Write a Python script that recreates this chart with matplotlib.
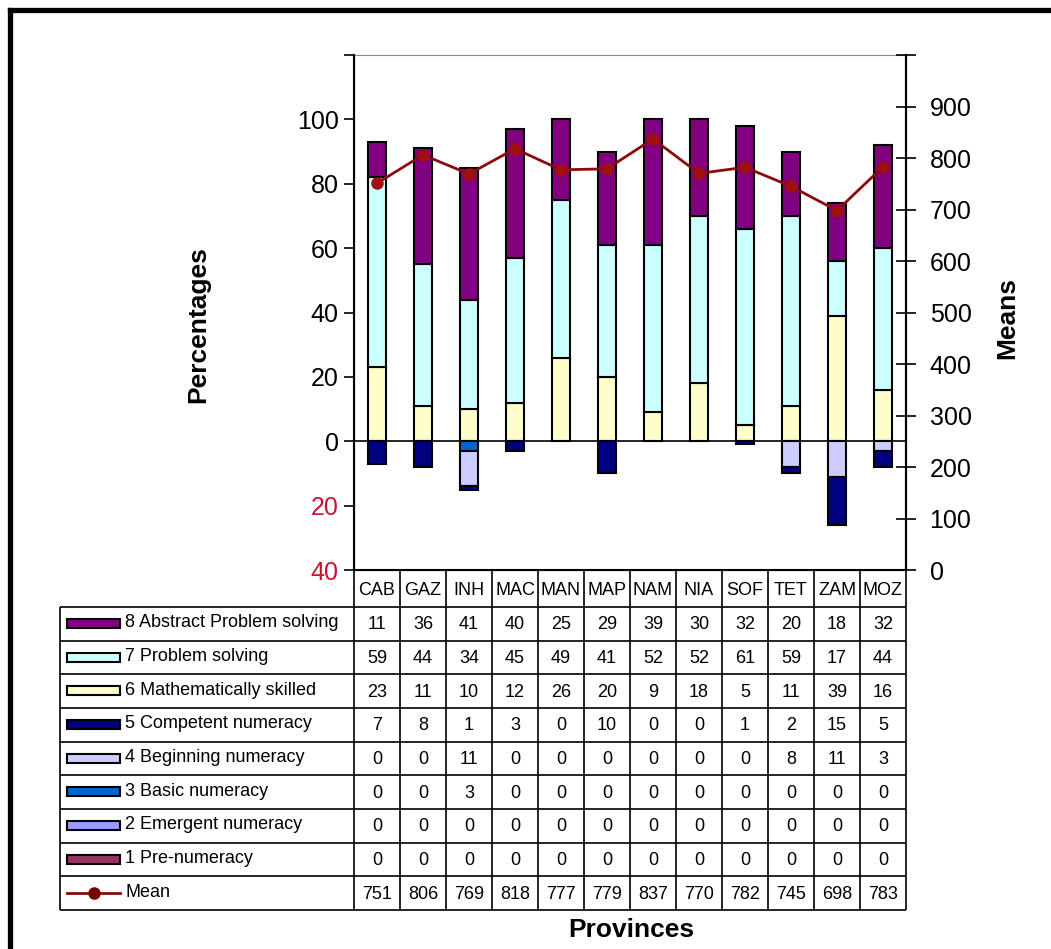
import matplotlib
matplotlib.use('Agg')
import matplotlib.pyplot as plt
import numpy as np
from matplotlib.patches import Rectangle
from matplotlib.lines import Line2D

plt.rcParams['font.family'] = ['Liberation Sans', 'DejaVu Sans']

provinces = ['CAB', 'GAZ', 'INH', 'MAC', 'MAN', 'MAP', 'NAM', 'NIA', 'SOF', 'TET', 'ZAM', 'MOZ']

abstract = [11, 36, 41, 40, 25, 29, 39, 30, 32, 20, 18, 32]
problem = [59, 44, 34, 45, 49, 41, 52, 52, 61, 59, 17, 44]
math_skilled = [23, 11, 10, 12, 26, 20, 9, 18, 5, 11, 39, 16]
competent = [7, 8, 1, 3, 0, 10, 0, 0, 1, 2, 15, 5]
beginning = [0, 0, 11, 0, 0, 0, 0, 0, 0, 8, 11, 3]
basic = [0, 0, 3, 0, 0, 0, 0, 0, 0, 0, 0, 0]
emergent = [0, 0, 0, 0, 0, 0, 0, 0, 0, 0, 0, 0]
pre_num = [0, 0, 0, 0, 0, 0, 0, 0, 0, 0, 0, 0]
means = [751, 806, 769, 818, 777, 779, 837, 770, 782, 745, 698, 783]

labels = ['8 Abstract Problem solving', '7 Problem solving', '6 Mathematically skilled',
          '5 Competent numeracy', '4 Beginning numeracy', '3 Basic numeracy',
          '2 Emergent numeracy', '1 Pre-numeracy']
series = [abstract, problem, math_skilled, competent, beginning, basic, emergent, pre_num]
colors = ['#800080', '#ccffff', '#ffffcc', '#000080', '#ccccff', '#0066cc', '#9999ff', '#993366']
mean_color = '#8b0a0a'
red = '#cc1133'

W, H = 1051, 949
fig = plt.figure(figsize=(W / 100, H / 100), dpi=100)

def frac(x0, y0, x1, y1):
    return [x0 / W, 1 - y1 / H, (x1 - x0) / W, (y1 - y0) / H]

ax = fig.add_axes(frac(354, 55, 906, 570))
x = np.arange(len(provinces))
bw = 0.38

# positive part: 6, 7, 8 upwards
bottom = np.zeros(len(x))
for s, c in [(math_skilled, colors[2]), (problem, colors[1]), (abstract, colors[0])]:
    v = np.array(s, dtype=float)
    ax.bar(x, v, bw, bottom=bottom, color=c, edgecolor='black', linewidth=1.5, zorder=2)
    bottom += v

# negative part: 1..5 downwards from zero
bottom = np.zeros(len(x))
for s, c in [(pre_num, colors[7]), (emergent, colors[6]), (basic, colors[5]),
             (beginning, colors[4]), (competent, colors[3])]:
    v = np.array(s, dtype=float)
    mask = v > 0
    ax.bar(x[mask], -v[mask], bw, bottom=bottom[mask], color=c, edgecolor='black',
           linewidth=1.5, zorder=2)
    bottom -= v

ax.axhline(0, color='black', lw=1.2, zorder=3)
ax.set_xlim(-0.5, len(x) - 0.5)
ax.set_ylim(-40, 120)
ax.set_xticks([])
yt = list(range(-40, 121, 20))
ax.set_yticks(yt)
ax.set_yticklabels([str(abs(v)) if v <= 100 else '' for v in yt], fontsize=18)
for lab, v in zip(ax.get_yticklabels(), yt):
    if v < 0:
        lab.set_color(red)
ax.tick_params(axis='y', direction='out', length=7, width=1.2, pad=4)
ax.spines['top'].set_color('#888888')
ax.spines['left'].set_linewidth(1.5)
ax.spines['right'].set_linewidth(1.5)
ax.spines['bottom'].set_linewidth(1.5)

ax2 = ax.twinx()
ax2.plot(x, means, color=mean_color, lw=2, marker='o', markersize=8,
         markerfacecolor='#a01010', markeredgecolor='#a01010', zorder=5)
ax2.set_ylim(0, 1000)
rt = list(range(0, 1001, 100))
ax2.set_yticks(rt)
ax2.set_yticklabels([str(v) if v < 1000 else '' for v in rt], fontsize=18)
ax2.tick_params(axis='y', direction='inout', length=14, width=1.2, pad=10)
ax2.spines['top'].set_visible(False)
ax2.spines['right'].set_linewidth(1.5)

# data table below the plot
tab = fig.add_axes(frac(60, 570, 906, 910))
L = (354 - 60) / 46.0
xl = len(x) - 0.5 - (906 - 60) / 46.0
tab.set_xlim(xl, len(x) - 0.5)
tab.set_ylim(340, 0)
tab.axis('off')
hdr = 37
rh = (340 - hdr) / 9.0
lk = dict(color='black', lw=1.2, clip_on=False)
tab.hlines([hdr + k * rh for k in range(10)], xl, len(x) - 0.5, **lk)
tab.vlines([i - 0.5 for i in range(len(x) + 1)], 0, 340, **lk)
tab.vlines([xl], hdr, 340, **lk)
for i, p in enumerate(provinces):
    tab.text(i, hdr / 2 + 2, p, ha='center', va='center', fontsize=13)

rows = series + [means]
row_labels = labels + ['Mean']
sx0 = xl + 7 / 46.0
sx1 = xl + 60 / 46.0
tx = xl + 65 / 46.0
for r, (vals, lab) in enumerate(zip(rows, row_labels)):
    yc = hdr + (r + 0.5) * rh
    for i, v in enumerate(vals):
        tab.text(i, yc + 1, str(v), ha='center', va='center', fontsize=13)
    tab.text(tx, yc - 1, lab, ha='left', va='center', fontsize=13)
    if r < 8:
        tab.add_patch(Rectangle((sx0, yc - 5), sx1 - sx0, 9, facecolor=colors[r],
                                edgecolor='black', lw=1.5, clip_on=False))
    else:
        tab.plot([sx0, sx1], [yc, yc], color=mean_color, lw=2, clip_on=False)
        tab.plot([(sx0 + sx1) / 2], [yc], 'o', color='#7a0000', markersize=8, clip_on=False)

fig.text(198 / W, 1 - 325 / H, 'Percentages', rotation=90, ha='center', va='center',
         fontsize=19, fontweight='bold')
fig.text(1007 / W, 1 - 318 / H, 'Means', rotation=90, ha='center', va='center',
         fontsize=19, fontweight='bold')
fig.text(631 / W, 1 - 930 / H, 'Provinces', ha='center', va='center',
         fontsize=19, fontweight='bold')

# outer frame
fig.add_artist(Line2D([9.5 / W, 1.0], [1 - 9.5 / H] * 2, color='black', lw=3.8,
                      transform=fig.transFigure))
fig.add_artist(Line2D([9.5 / W] * 2, [1 - 9.5 / H, 0], color='black', lw=3.8,
                      transform=fig.transFigure))

fig.savefig('out.png', dpi=100)
